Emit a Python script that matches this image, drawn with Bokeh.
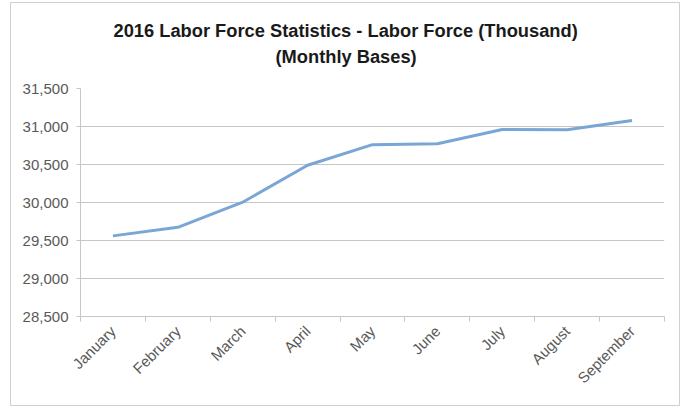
import math
from bokeh.plotting import figure
from bokeh.models import (Range1d, FixedTicker, NumeralTickFormatter, Title, ColumnDataSource)
from bokeh.embed import file_html
from bokeh.resources import INLINE

# ---- data ----
months = ["January", "February", "March", "April", "May", "June", "July", "August", "September"]
labor_force = [29561, 29674, 30004, 30490, 30761, 30773, 30961, 30956, 31078]
y_ticks = [28500, 29000, 29500, 30000, 30500, 31000, 31500]
title_lines = ["2016 Labor Force Statistics - Labor Force (Thousand)", "(Monthly Bases)"]

GRID = "#c6c6c6"
TXT = "#595959"
FONT = "Liberation Sans"

n = len(months)
centers = [i + 0.5 for i in range(n)]          # category band centres
bounds = list(range(n + 1))                    # category band boundaries

p = figure(width=670, height=404,
           x_range=Range1d(0, n), y_range=Range1d(y_ticks[0], y_ticks[-1]),
           output_backend="svg", toolbar_location=None,
           min_border_left=69, min_border_right=17, min_border_top=85, min_border_bottom=91)
p.outline_line_color = None
p.background_fill_color = "white"
p.border_fill_color = "white"
p.styles = {"border": "1px solid #d0d0d0", "margin-left": "10px", "margin-top": "2px"}
p.xgrid.grid_line_color = None

# x axis: labels at band centres, small ticks at band boundaries
p.xaxis.ticker = FixedTicker(ticks=centers, minor_ticks=bounds)
p.xaxis.major_label_overrides = {c: m for c, m in zip(centers, months)}
p.xaxis.axis_line_color = GRID
p.xaxis.major_tick_line_color = None
p.xaxis.major_tick_in = 0
p.xaxis.major_tick_out = 0
p.xaxis.minor_tick_line_color = GRID
p.xaxis.minor_tick_in = 0
p.xaxis.minor_tick_out = 5
p.xaxis.major_label_orientation = math.pi / 4
p.xaxis.major_label_text_font_size = "15px"
p.xaxis.major_label_text_color = TXT
p.xaxis.major_label_text_font = FONT
p.xaxis.major_label_standoff = 7

# y axis
p.yaxis.ticker = FixedTicker(ticks=y_ticks, minor_ticks=[])
p.yaxis.formatter = NumeralTickFormatter(format="0,0")
p.yaxis.axis_line_color = GRID
p.yaxis.major_tick_line_color = GRID
p.yaxis.major_tick_in = 0
p.yaxis.major_tick_out = 4
p.yaxis.minor_tick_line_color = None
p.yaxis.major_label_text_font_size = "15px"
p.yaxis.major_label_text_color = TXT
p.yaxis.major_label_text_font = FONT
p.yaxis.major_label_standoff = 8

p.ygrid.ticker = FixedTicker(ticks=y_ticks, minor_ticks=[])
p.ygrid.grid_line_color = GRID
p.ygrid.grid_line_width = 1

src = ColumnDataSource(data=dict(x=centers, value=labor_force))
p.line(x="x", y="value", source=src, line_color="#7aa6d6", line_width=3)

# two-line title (second line nearest the frame; a blank line below it lifts it up)
for t, off, so in [(title_lines[1] + "\n ", 195, 1), (title_lines[0], 33, 6)]:
    p.add_layout(Title(text=t, align="left", offset=off, standoff=so,
                       text_font=FONT, text_font_size="18.3px", text_font_style="bold",
                       text_color="#1a1a1a"), "above")

open("out.html", "w").write(file_html(p, INLINE))
